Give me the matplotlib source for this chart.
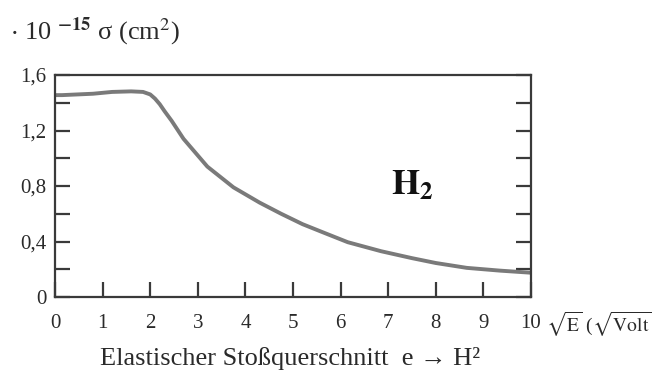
import matplotlib
matplotlib.use("Agg")
import matplotlib.pyplot as plt
import numpy as np

plt.rcParams['font.family'] = ['Liberation Serif', 'DejaVu Serif']
plt.rcParams['mathtext.fontset'] = 'stix'

# Elastic cross section of H2 vs sqrt(E)
sqrt_e = [0.0, 0.15, 0.8, 1.2, 1.6, 1.85, 2.0, 2.1, 2.2, 2.3, 2.45, 2.7, 3.2,
          3.75, 4.3, 4.75, 5.2, 5.6, 6.15, 6.85, 7.5, 8.0, 8.65, 9.35, 10.0]
sigma = [1.455, 1.455, 1.465, 1.478, 1.482, 1.478, 1.46, 1.43, 1.39, 1.34,
         1.27, 1.14, 0.94, 0.79, 0.68, 0.60, 0.525, 0.47, 0.395, 0.33, 0.28,
         0.245, 0.21, 0.19, 0.175]

x_ticks = list(range(0, 11))
x_labels = [str(v) for v in x_ticks]
y_major = [0.0, 0.4, 0.8, 1.2, 1.6]
y_labels = ['0', '0,4', '0,8', '1,2', '1,6']
y_minor = [0.2, 0.6, 1.0, 1.4]

fig = plt.figure(figsize=(6.58, 3.78), dpi=100)
ax = fig.add_axes([55 / 658, 1 - 297 / 378, 476 / 658, 222 / 378])

ax.plot(sqrt_e, sigma, color='#7a7a7a', lw=2.8, solid_capstyle='round',
        solid_joinstyle='round')
ax.set_xlim(0, 10)
ax.set_ylim(0, 1.6)

edge = '#3a3a3a'
for s in ax.spines.values():
    s.set_color(edge)
    s.set_linewidth(1.6)

ax.set_xticks(x_ticks)
ax.set_xticklabels(x_labels)
ax.set_yticks(y_major)
ax.set_yticklabels(y_labels)
ax.set_yticks(y_minor, minor=True)
ax.tick_params(axis='x', direction='in', length=10.5, width=1.6, color=edge,
               pad=12, labelsize=15, labelcolor='#2a2a2a')
ax.tick_params(axis='y', which='both', direction='in', length=10.5, width=1.6,
               color=edge, right=True, pad=6, labelsize=15, labelcolor='#2a2a2a')
ax.tick_params(axis='y', which='minor', labelleft=False)

fig.text(10 / 658, 1 - 32 / 378, r'$\cdot$ 10 $^{\mathbf{-15}}$ σ (cm$^2$)',
         fontsize=19, color='#2a2a2a', va='center', ha='left')
fig.text(546 / 658, 1 - 324 / 378,
         r'$\sqrt{\mathrm{E}}$ ($\sqrt{\mathrm{Volt}}$',
         fontsize=14, color='#2a2a2a', va='center', ha='left')
fig.text(290 / 658, 1 - 359 / 378, 'Elastischer Stoßquerschnitt  e → H²',
         fontsize=19, color='#2a2a2a', va='center', ha='center')
ax.text(7.05, 0.8, r'$\mathbf{H_2}$', fontsize=26, color='#111111',
        ha='left', va='center')

fig.savefig('out.png', dpi=100)
